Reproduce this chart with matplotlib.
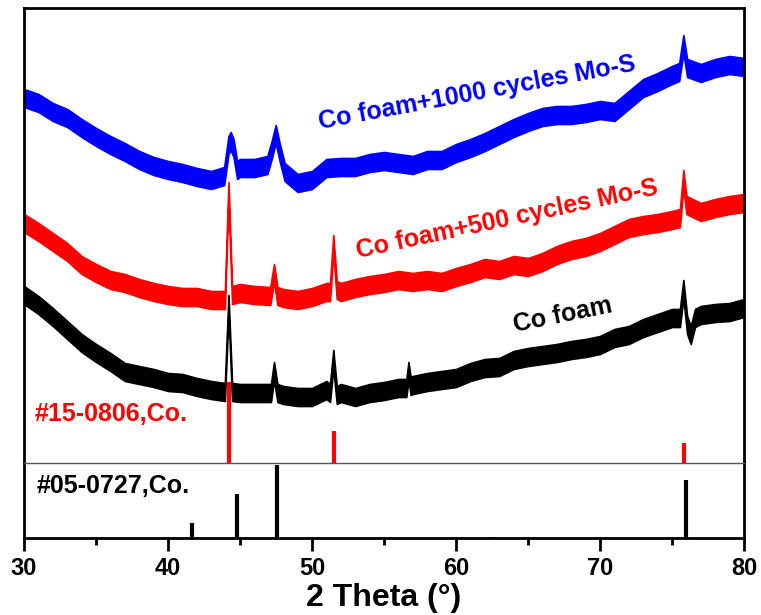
import numpy as np
import matplotlib.pyplot as plt

# XRD traces (2theta in degrees, intensity in a.u.)
black_x = [30, 31, 32, 33, 34, 35, 36, 37, 38, 39, 40, 41, 42, 43, 43.95, 44.2, 44.45,
           45, 46, 47.15, 47.36, 47.6, 48, 49, 50, 51, 51.25, 51.48, 51.72, 52, 53, 54, 55,
           56, 56.55, 56.7, 56.85, 57, 58, 59, 60, 61, 62, 63, 64, 65, 66, 67, 68, 69, 70,
           71, 72, 73, 74, 75, 75.55, 75.79, 76.05, 76.3, 76.6, 77, 78, 79, 80]
black_y = [168, 158, 146, 133, 120, 110, 101, 91, 88, 85, 81, 80, 76, 73, 71, 159, 71,
           70, 70, 70, 92, 70, 68, 66, 66, 73, 70, 104, 68, 70, 66, 70, 72,
           75, 75, 92, 77, 78, 81, 83, 85, 91, 95, 96, 103, 106, 108, 110, 113, 115, 118,
           125, 128, 135, 140, 145, 145, 174, 138, 128, 145, 148, 150, 151, 155]

red_x = [30, 31, 32, 33, 34, 35, 36, 37, 38, 39, 40, 41, 42, 43, 43.95, 44.2, 44.45,
         45, 46, 47.1, 47.36, 47.6, 48, 49, 50, 51, 51.25, 51.48, 51.72, 52, 53, 54, 55,
         56, 57, 58, 59, 60, 61, 62, 63, 64, 65, 66, 67, 68, 69, 70, 71, 72, 73, 74, 75,
         75.55, 75.79, 76.0, 77, 78, 79, 80]
red_y = [240, 231, 221, 211, 198, 190, 183, 180, 175, 171, 168, 166, 166, 163, 163, 272, 168,
         170, 168, 167, 190, 167, 165, 163, 166, 171, 171, 219, 173, 171, 175, 178, 180,
         183, 181, 183, 181, 186, 190, 195, 193, 198, 196, 201, 208, 213, 216, 221, 228, 235,
         238, 240, 243, 245, 284, 258, 251, 255, 258, 260]

blue_x = [30, 31, 32, 33, 34, 35, 36, 37, 38, 39, 40, 41, 42, 43, 43.9, 44.2, 44.35, 44.55,
          44.8, 45, 46, 46.9, 47.2, 47.48, 47.75, 48.1, 49, 50, 51, 52, 53, 54, 55, 56, 57,
          58, 59, 60, 61, 62, 63, 64, 65, 66, 67, 68, 69, 70, 71, 72, 73, 74, 75, 75.5,
          75.79, 76.05, 77, 78, 79, 80]
blue_y = [365, 360, 351, 345, 335, 326, 318, 311, 303, 297, 293, 290, 286, 283, 287, 318, 322,
          315, 293, 295, 295, 298, 313, 329, 311, 291, 280, 283, 295, 296, 296, 300, 302, 300,
          298, 303, 303, 310, 315, 321, 328, 335, 341, 346, 348, 348, 350, 353, 351, 363, 375,
          381, 388, 391, 419, 395, 390, 395, 398, 396]

# Reference cards
fcc_pos = [44.22, 51.52, 75.85]   # #15-0806 Co
fcc_int = [100, 40, 25]
hcp_pos = [41.68, 44.76, 47.57, 62.67, 75.94]   # #05-0727 Co
hcp_int = [20, 60, 100, 1, 80]

plt.rcParams['font.family'] = ['Liberation Sans', 'DejaVu Sans']
plt.rcParams['font.weight'] = 'bold'

W, H = 761, 615
fig = plt.figure(figsize=(W / 100, H / 100), dpi=100)
ax_top = fig.add_axes([24 / W, (H - 463) / H, 720 / W, 455 / H])
ax_bot = fig.add_axes([24 / W, (H - 538) / H, 720 / W, 75 / H])

# noisy traces drawn as a band around the read centre line
hw = 9
for xs, ys, col in [(black_x, black_y, 'black'), (red_x, red_y, 'red'), (blue_x, blue_y, 'blue')]:
    ys = np.array(ys, dtype=float)
    ax_top.fill_between(xs, ys - hw, ys + hw, color=col, lw=1.2, edgecolor=col)

# red reference sticks
ax_top.vlines(fcc_pos, 0, np.array(fcc_int) * 0.81, color='red', lw=3, zorder=5)

ax_top.text(50.56, 334, 'Co foam+1000 cycles Mo-S', color='blue', fontsize=18,
            rotation=10.5, rotation_mode='anchor', ha='left', va='baseline')
ax_top.text(53.19, 205, 'Co foam+500 cycles Mo-S', color='red', fontsize=18,
            rotation=12, rotation_mode='anchor', ha='left', va='baseline')
ax_top.text(64.1, 131, 'Co foam', color='black', fontsize=18,
            rotation=11.5, rotation_mode='anchor', ha='left', va='baseline')
ax_top.text(30.76, 42, '#15-0806,Co.', color='red', fontsize=18, ha='left', va='baseline')

ax_top.set_xlim(30, 80)
ax_top.set_ylim(0, 455)
ax_top.tick_params(left=False, bottom=False, labelleft=False, labelbottom=False)
ax_top.spines['bottom'].set_visible(False)
for s in ['top', 'left', 'right']:
    ax_top.spines[s].set_linewidth(2)

# bottom panel: hcp Co card
ax_bot.vlines(hcp_pos, 0, hcp_int, color='black', lw=3)
ax_bot.text(30.9, 61.5, '#05-0727,Co.', color='black', fontsize=18, ha='left', va='baseline')
ax_bot.set_xlim(30, 80)
ax_bot.set_ylim(0, 102.7)
ax_bot.set_yticks([])
ax_bot.set_xticks([30, 40, 50, 60, 70, 80])
ax_bot.set_xticks([35, 45, 55, 65, 75], minor=True)
ax_bot.tick_params(axis='x', which='major', direction='out', length=9, width=2,
                   labelsize=17, pad=5)
ax_bot.tick_params(axis='x', which='minor', direction='out', length=5, width=2)
ax_bot.spines['top'].set_color('#555555')
ax_bot.spines['top'].set_linewidth(1)
for s in ['bottom', 'left', 'right']:
    ax_bot.spines[s].set_linewidth(2)
for lab in ax_bot.get_xticklabels():
    lab.set_fontweight('bold')
ax_bot.set_xlabel('2 Theta (°)', fontsize=23, fontweight='bold', labelpad=2)

fig.savefig('out.png', dpi=100)
